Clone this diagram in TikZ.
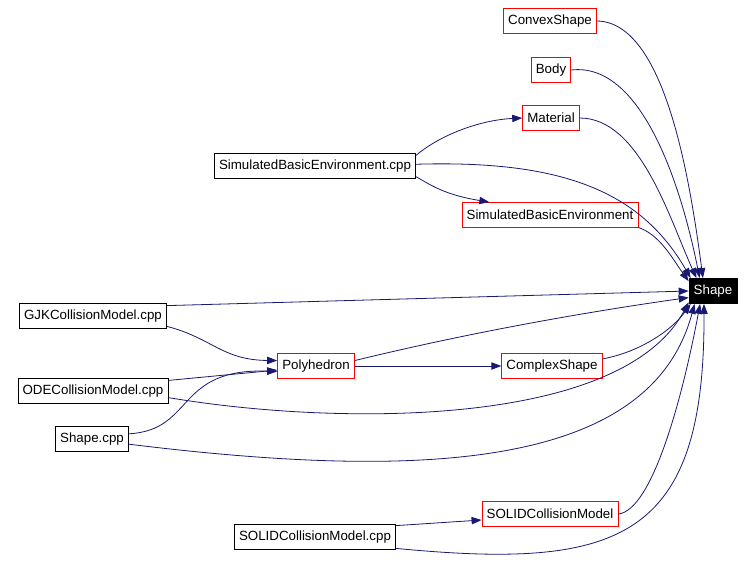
\documentclass[tikz,border=0pt]{standalone}
\usepackage{fontspec}
\setmainfont{Liberation Sans}
\usepackage{tikz}
\usetikzlibrary{arrows.meta}
\definecolor{edgeblue}{RGB}{25,25,112}

\begin{document}
\begin{tikzpicture}[
        x=0.75pt, y=-0.75pt,
        font=\fontsize{10}{12}\selectfont,
        file/.style={rectangle, draw=black, fill=white, line width=0.6pt, minimum height=18.75pt, inner xsep=3.5pt, inner ysep=0pt},
        header/.style={file, draw=red},
        target/.style={file, fill=black, text=white},
        edge/.style={-{Triangle[length=7.5pt, width=5.5pt]}, line width=0.6pt, color=edgeblue}
    ]
        \useasboundingbox (0,0) rectangle (755,582);
        % headers included by the sources
        \node[header] (convex) at (550,21) {ConvexShape};
        \node[header] (body) at (551,70) {Body};
        \node[header] (material) at (551,118) {Material};
        \node[header] (sbe) at (550,215) {SimulatedBasicEnvironment};
        \node[header] (poly) at (316,366) {Polyhedron};
        \node[header] (complex) at (552,366) {ComplexShape};
        \node[header] (solid) at (550,514) {SOLIDCollisionModel};
        \node[target] (shape) at (713,291) {Shape};
        % source files
        \node[file] (sbecpp) at (315,166) {SimulatedBasicEnvironment.cpp};
        \node[file] (gjkcpp) at (93,316) {GJKCollisionModel.cpp};
        \node[file] (odecpp) at (93,391) {ODECollisionModel.cpp};
        \node[file] (shapecpp) at (92,439) {Shape.cpp};
        \node[file] (solidcpp) at (315,537) {SOLIDCollisionModel.cpp};

        \draw[edge] (convex.east) .. controls (665,22) and (690,180) .. (shape.128);
        \draw[edge] (body.east) .. controls (640,62) and (680,180) .. (shape.136);
        \draw[edge] (material.east) .. controls (640,118) and (670,220) .. (shape.142);
        \draw[edge] (sbecpp.6) .. controls (440,135) and (480,120) .. (material.west);
        \draw[edge] (sbecpp.1) .. controls (560,160) and (640,190) .. (shape.150);
        \draw[edge] (sbecpp.-6) .. controls (432,186) and (446,195) .. (sbe.168);
        \draw[edge] (sbe.-8) .. controls (660,235) and (672,258) .. (shape.158);
        \draw[edge] (gjkcpp.8) -- (shape.west);
        \draw[edge] (gjkcpp.-8) .. controls (212,338) and (222,360) .. (poly.172);
        \draw[edge] (odecpp.8) -- (poly.186);
        \draw[edge] (odecpp.-5) .. controls (330,425) and (620,430) .. (shape.205);
        \draw[edge] (shapecpp.8) .. controls (195,430) and (175,368) .. (poly.188);
        \draw[edge] (shapecpp.-8) .. controls (420,480) and (650,470) .. (shape.215);
        \draw[edge] (poly.8) .. controls (480,330) and (600,310) .. (shape.195);
        \draw[edge] (poly.east) -- (complex.west);
        \draw[edge] (complex.8) .. controls (640,352) and (672,330) .. (shape.210);
        \draw[edge] (solid.east) .. controls (652,510) and (682,400) .. (shape.225);
        \draw[edge] (solidcpp.8) -- (solid.185);
        \draw[edge] (solidcpp.-8) .. controls (620,570) and (705,540) .. (shape.235);
    \end{tikzpicture}
\end{document}
